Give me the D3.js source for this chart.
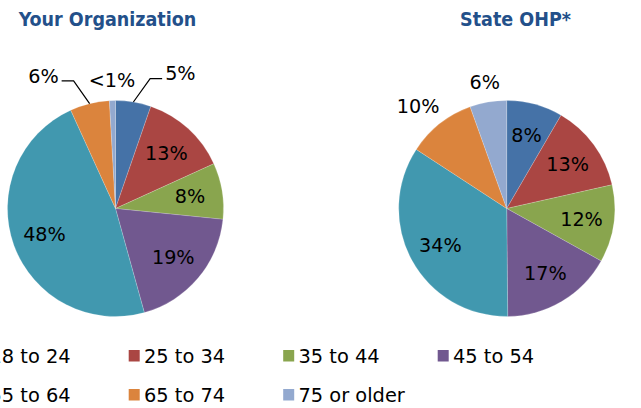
<!DOCTYPE html>
<html>
<head>
<meta charset="utf-8">
<script src="https://cdn.jsdelivr.net/npm/d3@7/dist/d3.min.js"></script>
<style>
  html, body { margin: 0; padding: 0; background: #fff; }
  svg { display: block; }
</style>
</head>
<body>
<svg id="chart" width="641" height="408"></svg>
<script>
// ---- data ----
const categories = ["18 to 24", "25 to 34", "35 to 44", "45 to 54", "55 to 64", "65 to 74", "75 or older"];
const colors = ["#4572A7", "#AA4643", "#89A54E", "#71588F", "#4198AF", "#DB843D", "#93A9CF"];
const titles = ["Your Organization", "State OHP*"];
const orgValues = [5.3, 12.9, 8.4, 19.1, 47.5, 5.9, 0.9];
const orgLabels = ["5%", "13%", "8%", "19%", "48%", "6%", "<1%"];
const orgOutside = [true, false, false, false, false, true, true];
const stateValues = [8.4, 13.1, 11.6, 16.8, 34.4, 10.3, 5.5];
const stateLabels = ["8%", "13%", "12%", "17%", "34%", "10%", "6%"];
const stateOutside = [false, false, false, false, false, true, true];

// ---- layout ----
const R = 108;
const pies = [
  { cx: 115.5, cy: 208.5, titleX: 107.5, values: orgValues, labels: orgLabels, outside: orgOutside, title: titles[0] },
  { cx: 506.7, cy: 208.5, titleX: 515.5, values: stateValues, labels: stateLabels, outside: stateOutside, title: titles[1] }
];
const labelFont = 19.2;
const svg = d3.select("#chart");

const color = d3.scaleOrdinal().domain(categories).range(colors);
const pie = d3.pie().sort(null).value(d => d);
const arc = d3.arc().innerRadius(0).outerRadius(R);

pies.forEach(p => {
  // title
  svg.append("text")
    .attr("x", p.titleX).attr("y", 26)
    .attr("text-anchor", "middle")
    .style("font-family", "'DejaVu Sans Condensed', 'DejaVu Sans', sans-serif")
    .style("font-stretch", "condensed")
    .style("font-weight", "bold")
    .style("font-size", "19.5px")
    .style("fill", "#23508A")
    .text(p.title);

  const g = svg.append("g").attr("transform", `translate(${p.cx},${p.cy})`);
  const arcs = pie(p.values);
  g.selectAll("path").data(arcs).enter().append("path")
    .attr("d", arc)
    .attr("fill", (d, i) => color(categories[i]))
    .attr("stroke", "#ffffff")
    .attr("stroke-opacity", 0.3)
    .attr("stroke-width", 0.6);

  const outs = [];
  arcs.forEach((a, i) => {
    const mid = (a.startAngle + a.endAngle) / 2;
    const t = g.append("text")
      .attr("text-anchor", "middle")
      .style("font-family", "'DejaVu Sans', sans-serif")
      .style("font-size", labelFont + "px")
      .style("fill", "#000")
      .text(p.labels[i]);
    if (!p.outside[i]) {
      const rr = R * 0.70;
      t.attr("x", Math.sin(mid) * rr).attr("y", -Math.cos(mid) * rr + labelFont * 0.36);
    } else {
      const d = R + 20;
      outs.push({ i, mid, t, w: t.node().getComputedTextLength(),
        x: Math.sin(mid) * d, y: -Math.cos(mid) * d });
    }
  });

  if (outs.length) {
    // simple horizontal de-overlap around the label nearest the top
    const pad = 30;
    outs.forEach(o => o.x0 = o.x);
    outs.sort((a, b) => a.x - b.x);
    let ai = 0;
    outs.forEach((o, k) => { if (Math.abs(Math.sin(o.mid)) < Math.abs(Math.sin(outs[ai].mid))) ai = k; });
    for (let k = ai - 1; k >= 0; k--) {
      const lim = outs[k + 1].x - (outs[k].w + outs[k + 1].w) / 2 - pad;
      if (outs[k].x > lim) outs[k].x = lim;
    }
    for (let k = ai + 1; k < outs.length; k++) {
      const lim = outs[k - 1].x + (outs[k].w + outs[k - 1].w) / 2 + pad;
      if (outs[k].x < lim) outs[k].x = lim;
    }
    outs.forEach(o => {
      const push = Math.abs(o.x - o.x0);
      o.y = o.y - 0.2 * push;
      o.t.attr("x", o.x).attr("y", o.y + labelFont * 0.36);
      // leader line only if the label box sits away from its slice edge
      const ex = Math.sin(o.mid) * R, ey = -Math.cos(o.mid) * R;
      const hw = o.w / 2 + 3, hh = labelFont * 0.45;
      const gx = Math.max(0, Math.abs(ex - o.x) - hw);
      const gy = Math.max(0, Math.abs(ey - o.y) - hh);
      if (gx > 15) {
        const side = o.x > ex ? -1 : 1; // side of the label facing the slice
        const nx = o.x + side * hw;
        const ly = o.y + 5;
        const bx = nx + side * 12;
        g.append("path")
          .attr("d", d3.line()([[ex, ey], [bx, ly], [nx, ly]]))
          .attr("fill", "none")
          .attr("stroke", "#000")
          .attr("stroke-width", 1.2);
      }
    });
  }
});

// ---- legend ----
const legCols = 4, colStep = 154.5, col0 = -25.8;
const rowBase = [363.3, 402.3];
const leg = svg.append("g");
categories.forEach((c, i) => {
  const col = i % legCols, row = Math.floor(i / legCols);
  const x = col0 + col * colStep;
  leg.append("rect")
    .attr("x", x).attr("y", rowBase[row] - 13.3)
    .attr("width", 11).attr("height", 11.5)
    .attr("fill", color(c));
  leg.append("text")
    .attr("x", x + 15.3).attr("y", rowBase[row])
    .style("font-family", "'DejaVu Sans', sans-serif")
    .style("font-size", "19.4px")
    .style("fill", "#000")
    .text(c);
});
</script>
</body>
</html>
